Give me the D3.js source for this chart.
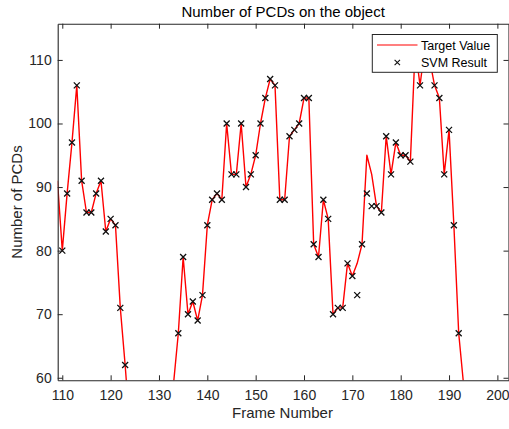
<!DOCTYPE html>
<html><head><meta charset="utf-8">
<script src="https://cdn.jsdelivr.net/npm/d3@7"></script>
<style>html,body{margin:0;padding:0;background:#fff;}svg{display:block;font-family:"Liberation Sans",Arial,sans-serif;}</style>
</head><body>
<svg id="chart" width="509" height="429"></svg>
<script>
const frames = d3.range(109, 194);
const targetValue = [91, 80, 89, 97, 106, 91, 86, 86, 89, 91, 83, 85, 84, 71, 62,
  52, 48, 45, 42, 41, 43, 46, 50, 55, 59,
  67, 79, 70, 72, 69, 73, 84, 88, 89, 88, 100, 92, 92, 100, 90, 92, 95, 100, 104, 107, 106,
  88, 88, 98, 99, 100, 104, 104, 81, 79, 88, 85, 70, 71, 71, 78, 76, 78, 81, 95, 92, 87, 86,
  98, 92, 97, 95, 95, 94, 112, 106, 112, 110, 106, 104, 92, 99, 84, 67, 59];
const svmResult = [null, 80, 89, 97, 106, 91, 86, 86, 89, 91, 83, 85, 84, 71, 62,
  52, 48, 45, 42, 41, 43, 46, 50, 55, 59,
  67, 79, 70, 72, 69, 73, 84, 88, 89, 88, 100, 92, 92, 100, 90, 92, 95, 100, 104, 107, 106,
  88, 88, 98, 99, 100, 104, 104, 81, 79, 88, 85, 70, 71, 71, 78, 76, 73, 81, 89, 87, 87, 86,
  98, 92, 97, 95, 95, 94, 112, 106, 112, 110, 106, 104, 92, 99, 84, 67, 59];
const xTicks = [110, 120, 130, 140, 150, 160, 170, 180, 190, 200];
const yTicks = [60, 70, 80, 90, 100, 110];
const seriesNames = ["Target Value", "SVM Result"];
const titleText = "Number of PCDs on the object";
const xLabel = "Frame Number";
const yLabel = "Number of PCDs";

const svg = d3.select("#chart");
const L = 57.7, R = 508.5, T = 23.7, B = 380.3;
const x = d3.scaleLinear().domain([109.05, 202.3]).range([L, R]);
const y = d3.scaleLinear().domain([59.6, 115.7]).range([B, T]);
const axisColor = "#262626";

svg.append("defs").append("clipPath").attr("id", "clip")
  .append("rect").attr("x", L).attr("y", T).attr("width", R - L).attr("height", B - T);

const plot = svg.append("g").attr("clip-path", "url(#clip)");
const tData = frames.map((f, i) => [f, targetValue[i]]);
const sData = frames.map((f, i) => [f, svmResult[i]]).filter(d => d[1] != null);
plot.append("path").datum(tData)
  .attr("d", d3.line().x(d => x(d[0])).y(d => y(d[1])))
  .attr("fill", "none").attr("stroke", "#ff0000").attr("stroke-width", 1.4).attr("stroke-linejoin", "round");
const m = 3;
plot.selectAll("path.mk").data(sData).join("path").attr("class", "mk")
  .attr("d", d => { const cx = x(d[0]), cy = y(d[1]); return `M${cx-m},${cy-m}L${cx+m},${cy+m}M${cx-m},${cy+m}L${cx+m},${cy-m}`; })
  .attr("stroke", "#111").attr("stroke-width", 1.3).attr("fill", "none");

// axes
const tickLen = 5;
const gx = svg.append("g").attr("transform", `translate(0,${B})`)
  .call(d3.axisBottom(x).tickValues(xTicks).tickSize(-tickLen).tickPadding(10).tickSizeOuter(0));
const gxt = svg.append("g").attr("transform", `translate(0,${T})`)
  .call(d3.axisTop(x).tickValues(xTicks).tickSize(-tickLen).tickFormat("").tickSizeOuter(0));
const gy = svg.append("g").attr("transform", `translate(${L},0)`)
  .call(d3.axisLeft(y).tickValues(yTicks).tickSize(-tickLen).tickPadding(6).tickSizeOuter(0));
const gyr = svg.append("g").attr("transform", `translate(${R},0)`)
  .call(d3.axisRight(y).tickValues(yTicks).tickSize(-tickLen).tickFormat("").tickSizeOuter(0));
[gx, gxt, gy, gyr].forEach(g => {
  g.select(".domain").attr("stroke", axisColor).attr("stroke-width", 1.1);
  g.selectAll(".tick line").attr("stroke", axisColor).attr("stroke-width", 1);
  g.selectAll(".tick text").attr("fill", axisColor).attr("font-size", 14).attr("font-family", "Liberation Sans, Arial, sans-serif");
});

// titles
svg.append("text").attr("x", (L + R) / 2 - 0).attr("y", 17).attr("text-anchor", "middle")
  .attr("font-size", 15).attr("fill", "#000").text(titleText);
svg.append("text").attr("x", 282.5).attr("y", 418).attr("text-anchor", "middle")
  .attr("font-size", 15).attr("fill", axisColor).text(xLabel);
svg.append("text").attr("transform", `translate(22,${(T + B) / 2}) rotate(-90)`).attr("text-anchor", "middle")
  .attr("font-size", 15).attr("fill", axisColor).text(yLabel);

// legend
const lg = svg.append("g");
lg.append("rect").attr("x", 372.3).attr("y", 34.5).attr("width", 125).attr("height", 37.8)
  .attr("fill", "#fff").attr("stroke", axisColor).attr("stroke-width", 1);
lg.append("line").attr("x1", 377).attr("x2", 417.5).attr("y1", 45).attr("y2", 45)
  .attr("stroke", "#ff0000").attr("stroke-width", 1.2);
const lx = 397.3, ly = 62.5, lm = 2.7;
lg.append("path").attr("d", `M${lx-lm},${ly-lm}L${lx+lm},${ly+lm}M${lx-lm},${ly+lm}L${lx+lm},${ly-lm}`)
  .attr("stroke", "#111").attr("stroke-width", 1.1);
lg.append("text").attr("x", 421).attr("y", 49.5).attr("font-size", 12.5).attr("fill", "#000").text(seriesNames[0]);
lg.append("text").attr("x", 421).attr("y", 67).attr("font-size", 12.5).attr("fill", "#000").text(seriesNames[1]);
</script>
</body></html>
